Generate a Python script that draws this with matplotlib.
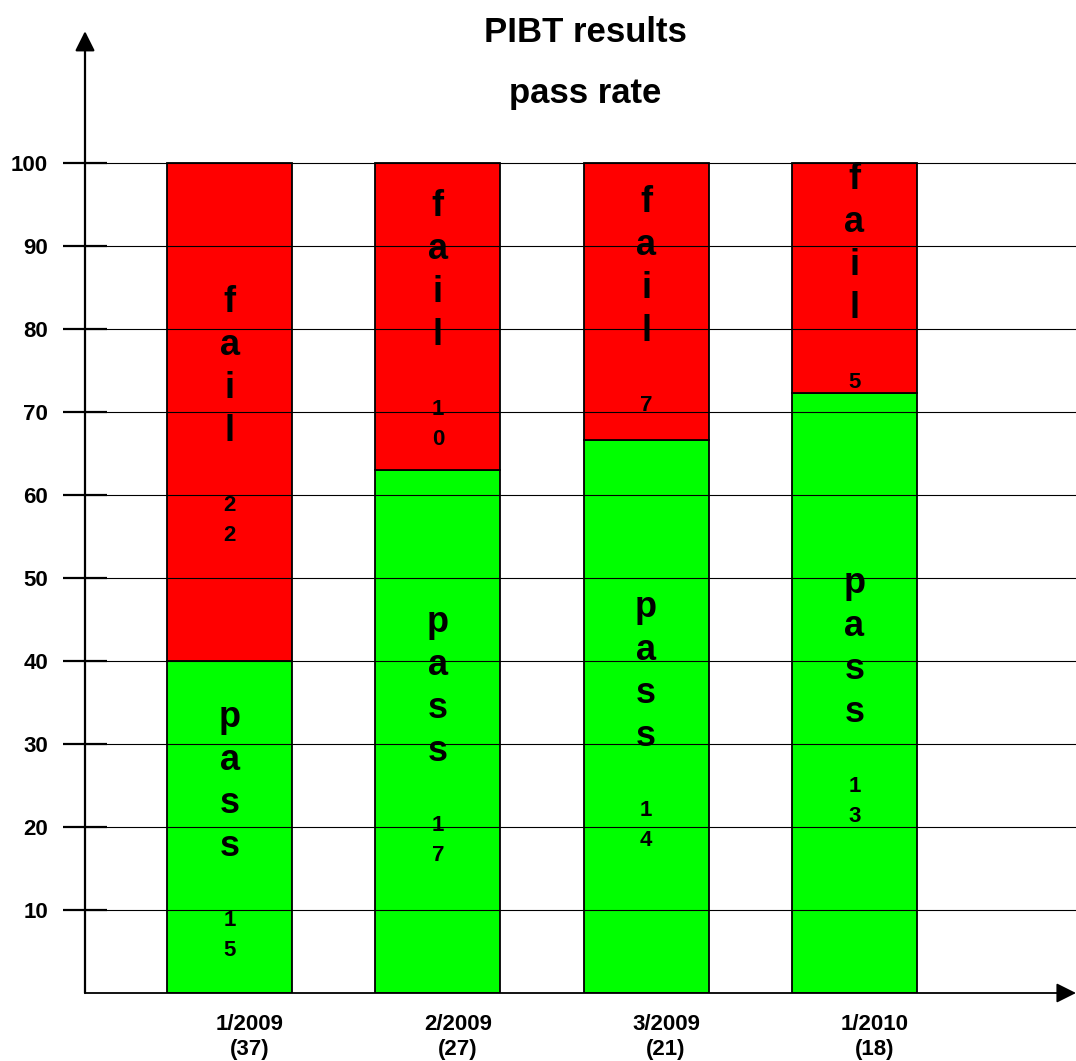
import matplotlib
matplotlib.use("Agg")
import matplotlib.pyplot as plt
import numpy as np

plt.rcParams['font.family'] = ['Liberation Sans', 'DejaVu Sans']
plt.rcParams['font.weight'] = 'bold'

# donnees
sessions = ['1/2009', '2/2009', '3/2009', '1/2010']
totals = [37, 27, 21, 18]
passed = [15, 17, 14, 13]
failed = [22, 10, 7, 5]
pass_pct = np.array([40.0, 63.0, 66.6, 72.3])

fail_pct = 100 - pass_pct
x = np.arange(len(sessions))

fig = plt.figure(figsize=(10.76, 10.61), dpi=100)
ax = fig.add_axes([85 / 1076, 68 / 1061, 991 / 1076, 958 / 1061])

ax.bar(x, pass_pct, width=0.6, color='#00ff00', edgecolor='black', linewidth=1.3, zorder=1)
ax.bar(x, fail_pct, bottom=pass_pct, width=0.6, color='#ff0000', edgecolor='black', linewidth=1.3, zorder=1)

ax.set_xlim(-0.694, 4.064)
ax.set_ylim(0, 115.4)

# axes avec fleches
for s in ax.spines.values():
    s.set_visible(False)
ax.annotate('', xy=(0, 1.004), xytext=(0, 0), xycoords='axes fraction',
            arrowprops=dict(arrowstyle='-|>,head_length=1.0,head_width=0.5', lw=1.6,
                            color='black', shrinkA=0, shrinkB=0, mutation_scale=12),
            annotation_clip=False)
ax.annotate('', xy=(1.0, 0), xytext=(0, 0), xycoords='axes fraction',
            arrowprops=dict(arrowstyle='-|>,head_length=1.0,head_width=0.5', lw=1.3,
                            color='black', shrinkA=0, shrinkB=0, mutation_scale=12),
            annotation_clip=False)

ax.set_yticks(range(10, 101, 10))
ax.set_xticks([])
ax.tick_params(axis='y', direction='inout', length=31, width=1.6, pad=11, labelsize=16)
ax.yaxis.grid(True, color='black', linewidth=0.8)
ax.set_axisbelow(False)

# etiquettes des sessions
for i in x:
    ax.annotate(sessions[i], xy=(i, 0), xycoords=('data', 'axes fraction'),
                xytext=(20, -31), textcoords='offset pixels', ha='center', va='center', fontsize=16)
    ax.annotate('(%d)' % totals[i], xy=(i, 0), xycoords=('data', 'axes fraction'),
                xytext=(20, -57), textcoords='offset pixels', ha='center', va='center', fontsize=16)


def vertical_label(xc, yc, word, count):
    digits = str(count)
    span = 203 + 30 * (len(digits) - 1)
    top = span / 2 - 3 - 4 * (len(digits) - 1)
    for k, ch in enumerate(word):
        ax.annotate(ch, xy=(xc, yc), xytext=(0, top - 43 * k), textcoords='offset pixels',
                    ha='center', va='center', fontsize=26, zorder=5)
    for k, ch in enumerate(digits):
        ax.annotate(ch, xy=(xc, yc), xytext=(0, top - 203 - 30 * k), textcoords='offset pixels',
                    ha='center', va='center', fontsize=16, zorder=5)


for i in x:
    vertical_label(i, pass_pct[i] / 2, 'pass', passed[i])
    vertical_label(i, pass_pct[i] + fail_pct[i] / 2, 'fail', failed[i])

fig.text(585 / 1076, 1 - 32 / 1061, 'PIBT results', ha='center', va='center', fontsize=25)
fig.text(585 / 1076, 1 - 94 / 1061, 'pass rate', ha='center', va='center', fontsize=25)

fig.savefig('out.png', dpi=100)
